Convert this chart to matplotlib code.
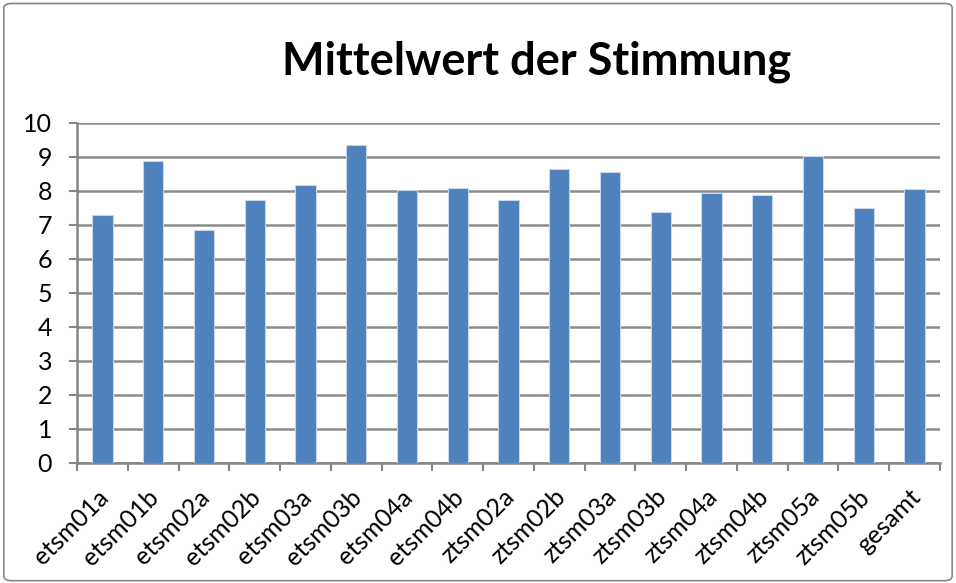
import matplotlib
matplotlib.use('Agg')
import matplotlib.pyplot as plt
import matplotlib.transforms as mtransforms
from matplotlib.patches import FancyBboxPatch

# --- data ---
categories = ["etsm01a", "etsm01b", "etsm02a", "etsm02b", "etsm03a", "etsm03b",
              "etsm04a", "etsm04b", "ztsm02a", "ztsm02b", "ztsm03a", "ztsm03b",
              "ztsm04a", "ztsm04b", "ztsm05a", "ztsm05b", "gesamt"]
values = [7.3, 8.89, 6.84, 7.75, 8.19, 9.35, 8.04, 8.09, 7.75, 8.65,
          8.55, 7.38, 7.94, 7.89, 9.04, 7.49, 8.05]
y_ticks = list(range(0, 11))

plt.rcParams['font.family'] = ['Lato', 'DejaVu Sans']

fig = plt.figure(figsize=(9.56, 5.83), dpi=100)
ax = fig.add_axes([77 / 956, 1 - 463 / 583, (940 - 77) / 956, (463 - 123) / 583])

x = range(len(categories))
ax.bar(x, values, width=0.4, color='#4f81bd', edgecolor='#c5d5ea', linewidth=0.8, zorder=3)

ax.set_xlim(-0.5, len(categories) - 0.5)
ax.set_ylim(0, 10)
ax.set_yticks(y_ticks)
ax.tick_params(axis='y', labelsize=18, length=6, width=1.5, color='#868686', pad=12)
ax.yaxis.grid(True, color='#8c8c8c', linewidth=1.8, zorder=0)

ax.set_xticks(list(x))
ax.set_xticklabels(categories, rotation=45, ha='right', rotation_mode='anchor', fontsize=18)
ax.tick_params(axis='x', length=0, pad=16)
# nudge labels a little to the left
shift = mtransforms.ScaledTranslation(-6 / 100, 0, fig.dpi_scale_trans)
for lbl in ax.get_xticklabels():
    lbl.set_transform(lbl.get_transform() + shift)
# tick marks between categories
ax.set_xticks([i - 0.5 for i in range(len(categories) + 1)], minor=True)
ax.tick_params(axis='x', which='minor', length=6, width=1.5, color='#868686')

for s in ['top', 'right']:
    ax.spines[s].set_visible(False)
for s in ['left', 'bottom']:
    ax.spines[s].set_color('#868686')
    ax.spines[s].set_linewidth(1.8)

fig.text(537 / 956, 1 - 62 / 583, "Mittelwert der Stimmung", ha='center', va='center',
         fontsize=32.5, fontweight='bold')

# outer chart border
border = FancyBboxPatch((0.004, 0.004), 0.992, 0.99, boxstyle="round,pad=0,rounding_size=0.008",
                        transform=fig.transFigure, fill=False, edgecolor='#868686', linewidth=1.2)
fig.patches.append(border)

fig.savefig("out.png", dpi=100)
